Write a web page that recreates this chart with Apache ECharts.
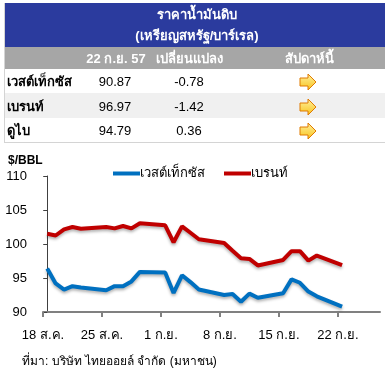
<!DOCTYPE html>
<html>
<head>
<meta charset="utf-8">
<script src="https://cdn.jsdelivr.net/npm/echarts@6/dist/echarts.min.js"></script>
<style>
html,body{margin:0;padding:0;background:#fff;}
#c{width:385px;height:368px;}
</style>
</head>
<body>
<div id="c"></div>
<script>
// ---- data ----
// day offsets from 18 Aug 2014
var days = [0,1,2,3,4,7,8,9,10,11,14,15,16,17,18,21,22,23,24,25,28,29,30,31,32,35];
var wti = [96.4,94.2,93.3,93.8,93.6,93.2,93.8,93.8,94.5,95.9,95.8,92.8,95.4,94.4,93.3,92.5,92.65,91.5,92.7,92.1,92.75,94.8,94.3,93.0,92.3,90.8];
var brent = [101.5,101.25,102.15,102.5,102.25,102.5,102.3,102.65,102.3,103.05,102.75,100.25,102.6,101.65,100.7,100.15,99.0,97.9,97.8,96.85,97.65,98.95,98.95,97.55,98.3,96.9];
var tickDays = [-0.5,6.5,13.5,20.5,27.5,34.5];
var tickLabels = ['18 ส.ค.','25 ส.ค.','1 ก.ย.','8 ก.ย.','15 ก.ย.','22 ก.ย.'];
var seriesNames = ['เวสต์เท็กซัส','เบรนท์'];

var tableTitle = ['ราคาน้ำมันดิบ','(เหรียญสหรัฐ/บาร์เรล)'];
var tableHeader = ['22 ก.ย. 57','เปลี่ยนแปลง','สัปดาห์นี้'];
var rowNames = ['เวสต์เท็กซัส','เบรนท์','ดูไบ'];
var rowPrices = ['90.87','96.97','94.79'];
var rowChanges = ['-0.78','-1.42','0.36'];
var sourceText = 'ที่มา: บริษัท ไทยออยล์ จำกัด (มหาชน)';

var FONT = '"Liberation Sans", Arial, "Noto Sans", "DejaVu Sans", sans-serif';

var chart = echarts.init(document.getElementById('c'), null, {renderer:'canvas'});

function pair(xs, ys){ return xs.map(function(x,i){ return [x, ys[i]]; }); }

var graphics = [];
// table backgrounds
graphics.push({type:'rect', shape:{x:4,y:3,width:381,height:44}, style:{fill:'#2B3B9E'}});
graphics.push({type:'rect', shape:{x:4,y:47,width:381,height:22}, style:{fill:'#A6A6A6'}});
var rowY = [69,93,118];
var rowH = [24,25,24];
var rowFill = ['#FFFFFF','#F0F0F0','#FFFFFF'];
rowY.forEach(function(y,i){
  graphics.push({type:'rect', shape:{x:4,y:y,width:381,height:rowH[i]}, style:{fill:rowFill[i]}});
});
graphics.push({type:'line', shape:{x1:4.5,y1:3,x2:4.5,y2:142.5}, style:{stroke:'#D4D4D4',lineWidth:1}});
graphics.push({type:'line', shape:{x1:4,y1:142.5,x2:385,y2:142.5}, style:{stroke:'#D4D4D4',lineWidth:1}});
// titles
graphics.push({type:'text', x:197, y:15, style:{text:tableTitle[0], fill:'#fff', font:'bold 13px '+FONT, align:'center', verticalAlign:'middle'}});
graphics.push({type:'text', x:197, y:36, style:{text:tableTitle[1], fill:'#fff', font:'bold 13px '+FONT, align:'center', verticalAlign:'middle'}});
var hdrX = [116,189,309];
tableHeader.forEach(function(t,i){
  graphics.push({type:'text', x:hdrX[i], y:59, style:{text:t, fill:'#fff', font:'bold 13px '+FONT, align:'center', verticalAlign:'middle'}});
});
var rowMid = [82,107,131];
rowNames.forEach(function(t,i){
  graphics.push({type:'text', x:7, y:rowMid[i], style:{text:t, fill:'#000', font:'bold 13px '+FONT, align:'left', verticalAlign:'middle'}});
  graphics.push({type:'text', x:115, y:rowMid[i], style:{text:rowPrices[i], fill:'#000', font:'13px '+FONT, align:'center', verticalAlign:'middle'}});
  graphics.push({type:'text', x:189, y:rowMid[i], style:{text:rowChanges[i], fill:'#000', font:'13px '+FONT, align:'center', verticalAlign:'middle'}});
  var cy = rowMid[i];
  graphics.push({type:'polygon', shape:{points:[[300,cy-4],[308,cy-4],[308,cy-8],[316,cy],[308,cy+8],[308,cy+4],[300,cy+4]]},
    style:{fill:new echarts.graphic.LinearGradient(0,0,0,1,[{offset:0,color:'#FFF1A0'},{offset:1,color:'#F7C21A'}]), stroke:'#E07A00', lineWidth:1}});
});
// unit label & source
graphics.push({type:'text', x:8, y:161, style:{text:'$/BBL', fill:'#000', font:'bold 12px '+FONT, align:'left', verticalAlign:'middle'}});
graphics.push({type:'text', x:22, y:362, style:{text:sourceText, fill:'#000', font:'12px '+FONT, align:'left', verticalAlign:'middle'}});

var lineStyleBase = {width:4, shadowColor:'rgba(0,0,0,0.3)', shadowBlur:3, shadowOffsetY:2};

chart.setOption({
  animation:false,
  backgroundColor:'#fff',
  textStyle:{fontFamily:FONT},
  graphic:graphics,
  legend:{
    data:seriesNames,
    left:108, top:162,
    icon:'rect', itemWidth:27, itemHeight:4, itemGap:19,
    textStyle:{fontSize:13, color:'#000', padding:[0,0,0,-5], fontFamily:FONT}
  },
  grid:{left:43, top:176, width:337, height:136, containLabel:false},
  xAxis:{
    type:'value', min:-0.5, max:39.5,
    axisLine:{show:true, lineStyle:{color:'#808080', width:2}},
    axisTick:{show:true, customValues:tickDays, length:5, lineStyle:{color:'#808080', width:2}},
    axisLabel:{customValues:tickDays, margin:17, fontSize:13, color:'#000',
      formatter:function(v){ var i = tickDays.indexOf(v); return i>=0 ? tickLabels[i] : ''; }},
    splitLine:{show:false}
  },
  yAxis:{
    type:'value', min:90, max:110, interval:5,
    axisLine:{show:true, lineStyle:{color:'#404040', width:1}},
    axisTick:{show:true, length:4, lineStyle:{color:'#404040'}},
    axisLabel:{margin:16, fontSize:13, color:'#000'},
    splitLine:{show:false}
  },
  series:[
    {name:seriesNames[0], type:'line', data:pair(days,wti), symbol:'none', color:'#0070C0',
      lineStyle:Object.assign({color:'#0070C0'}, lineStyleBase)},
    {name:seriesNames[1], type:'line', data:pair(days,brent), symbol:'none', color:'#C00000',
      lineStyle:Object.assign({color:'#C00000'}, lineStyleBase)}
  ]
});
</script>
</body>
</html>
